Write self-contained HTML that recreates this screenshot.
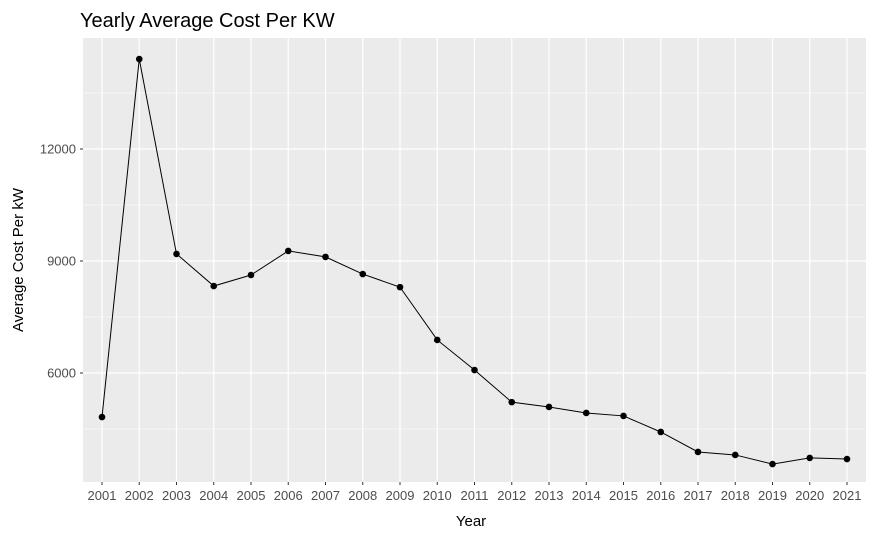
<!DOCTYPE html>
<html><head><meta charset="utf-8"><style>
body{margin:0;background:#fff;font-family:"Liberation Sans",sans-serif}
svg text{font-family:"Liberation Sans",sans-serif}
</style></head><body>
<svg id="c" width="875" height="540" xmlns="http://www.w3.org/2000/svg">
<text x="80" y="27" font-size="20" fill="#000">Yearly Average Cost Per KW</text>
<rect x="83" y="38" width="783" height="444" fill="#ebebeb"/>
<g id="grid"></g>
<g id="series"></g>
<g id="axes"></g>
<text x="471" y="526" font-size="15" text-anchor="middle">Year</text>
<text transform="translate(23,260) rotate(-90)" font-size="15" text-anchor="middle">Average Cost Per kW</text>
</svg>
<script>
const years=["2001","2002","2003","2004","2005","2006","2007","2008","2009","2010","2011","2012","2013","2014","2015","2016","2017","2018","2019","2020","2021"];
const costs=[4820,14410,9190,8330,8625,9270,9110,8650,8300,6885,6080,5220,5090,4930,4850,4420,3885,3805,3560,3725,3695];
const yTicks=[6000,9000,12000];
const yMinor=[4500,7500,10500,13500];
const NS="http://www.w3.org/2000/svg";
const x=i=>102+i*(847-102)/(years.length-1);
const y=v=>149+(12000-v)*112/3000;
function mk(t,a,p){const e=document.createElementNS(NS,t);for(const k in a)e.setAttribute(k,a[k]);p.appendChild(e);return e;}
const g=document.getElementById('grid'),s=document.getElementById('series'),ax=document.getElementById('axes');
yMinor.forEach(v=>{const l=mk('line',{x1:83,x2:866,y1:y(v),y2:y(v),stroke:'#fff','stroke-width':0.6},g);

});
yTicks.forEach(v=>{const l=mk('line',{x1:83,x2:866,y1:y(v),y2:y(v),stroke:'#fff','stroke-width':1.2},g);


const t=mk('text',{x:76,y:y(v)+4.5,'font-size':13,'text-anchor':'end',fill:'#4d4d4d'},ax);t.textContent=v;


mk('line',{x1:80,x2:83,y1:y(v),y2:y(v),stroke:'#333'},ax);});
years.forEach((yr,i)=>{const l=mk('line',{x1:x(i),x2:x(i),y1:38,y2:482,stroke:'#fff','stroke-width':1.2},g);


mk('line',{x1:x(i),x2:x(i),y1:482,y2:485,stroke:'#333'},ax);
const t=mk('text',{x:x(i),y:500,'font-size':13,'text-anchor':'middle',fill:'#4d4d4d'},ax);t.textContent=yr;

});
const p=mk('polyline',{points:costs.map((v,i)=>x(i)+','+y(v)).join(' '),fill:'none',stroke:'#000','stroke-width':1},s);


costs.forEach((v,i)=>{const c=mk('circle',{cx:x(i),cy:y(v),r:3.3,fill:'#000'},s);

});
</script>
</body></html>
